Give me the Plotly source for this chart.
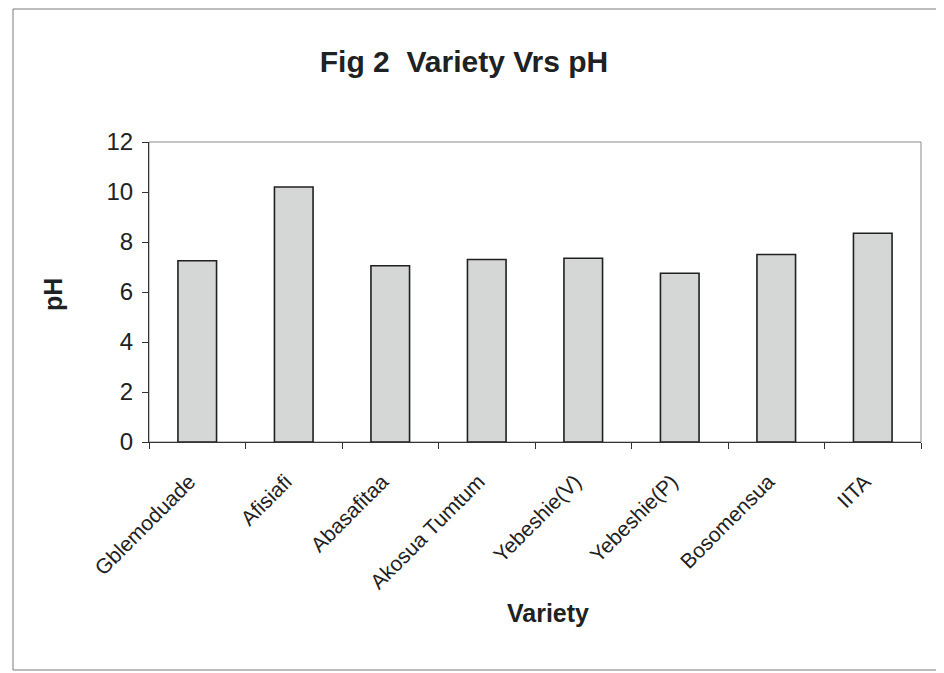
import plotly.graph_objects as go

varieties = ["Gblemoduade", "Afisiafi", "Abasafitaa", "Akosua Tumtum",
             "Yebeshie(V)", "Yebeshie(P)", "Bosomensua", "IITA"]
ph_values = [7.25, 10.2, 7.05, 7.3, 7.35, 6.75, 7.5, 8.35]
y_ticks = [0, 2, 4, 6, 8, 10, 12]

font_family = "Liberation Sans, Arial, sans-serif"
ink = "#1e2222"

# page has an 8px body margin; figure coordinates = page coordinates - 8
W, H = 936, 665
L, R, T, B = 141, 23, 134, 231
pw, ph = W - L - R, H - T - B

def px_x(x):
    return (x - L) / pw

def px_y(y):
    return (H - B - y) / ph

fig = go.Figure()
fig.add_trace(go.Bar(
    x=varieties, y=ph_values,
    marker=dict(color="#d5d7d7", line=dict(color="#202020", width=1.6)),
    width=0.40,
))

fig.update_layout(
    width=W, height=H,
    margin=dict(l=L, r=R, t=T, b=B),
    paper_bgcolor="white", plot_bgcolor="white",
    showlegend=False,
    font=dict(family=font_family, color=ink),
    title=dict(text="Fig 2\u00a0\u00a0Variety Vrs pH", x=456 / W, xanchor="center",
               y=1 - 53 / H, yanchor="middle",
               font=dict(size=30, family=font_family, color=ink, weight="bold")),
    xaxis=dict(
        type="category", tickangle=-45, tickson="boundaries",
        ticks="outside", ticklen=6, tickcolor="#333333",
        ticklabelstandoff=18, ticklabelshift=-8,
        showline=True, linecolor="#333333", linewidth=1.2,
        showgrid=False, tickfont=dict(size=21, color=ink),
    ),
    yaxis=dict(
        range=[0, 12], tickvals=y_ticks, ticktext=[str(v) for v in y_ticks],
        ticks="outside", ticklen=6, tickcolor="#333333",
        showline=True, linecolor="#333333", linewidth=1.2,
        showgrid=False, zeroline=False, tickfont=dict(size=24, color=ink),
        ticklabelstandoff=4,
    ),
    annotations=[
        dict(text="<b>Variety</b>", xref="paper", yref="paper",
             x=px_x(540), y=px_y(605), xanchor="center", yanchor="middle",
             showarrow=False, font=dict(size=25, color=ink)),
        dict(text="<b>pH</b>", xref="paper", yref="paper",
             x=px_x(45), y=px_y(287), xanchor="center", yanchor="middle",
             textangle=-90, showarrow=False, font=dict(size=25, color=ink)),
    ],
    shapes=[
        dict(type="rect", xref="paper", yref="paper", x0=0, x1=1, y0=0, y1=1,
             line=dict(color="#8a8a8a", width=1), layer="below"),
        dict(type="rect", xref="paper", yref="paper",
             x0=px_x(5), x1=px_x(931),
             y0=px_y(662), y1=px_y(1),
             line=dict(color="#7a7a7a", width=1)),
    ],
)

fig.write_html("out.html")
